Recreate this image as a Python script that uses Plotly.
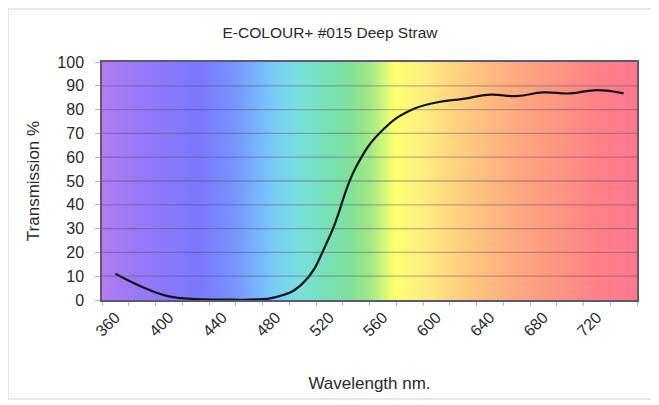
import plotly.graph_objects as go

# ---- data ----
wavelength = [360, 380, 400, 420, 440, 460, 480, 500, 520, 540,
              560, 580, 600, 620, 640, 660, 680, 700, 720, 740]
transmission = [11, 5.5, 1.5, 0.4, 0.2, 0.2, 1.2, 7, 26.5, 56,
                71.5, 79.5, 83, 84.5, 86.3, 85.7, 87.2, 86.8, 88.2, 86.8]
x_tick_vals = [360, 400, 440, 480, 520, 560, 600, 640, 680, 720]
y_tick_vals = [0, 10, 20, 30, 40, 50, 60, 70, 80, 90, 100]
x_range = [350, 750]

# spectrum background stops (wavelength, colour)
spectrum_nm = [350, 373, 423, 446, 464, 479, 498, 520, 535, 550, 562, 569,
               588, 606, 633, 662, 692, 722, 750]
spectrum_col = ["#b47cf0", "#9a79f6", "#7a78ff", "#7890ff", "#78b0ff", "#78cdf5",
                "#78e0dc", "#78e0b4", "#80e098", "#a0e888", "#d8f878", "#ffff70",
                "#fff080", "#ffdc80", "#ffc080", "#ffa880", "#ff9484", "#ff8088",
                "#ff7890"]

span = x_range[1] - x_range[0]
colorscale = [[(w - x_range[0]) / span, c] for w, c in zip(spectrum_nm, spectrum_col)]

# plot area in figure pixels (page body adds an 8px offset)
W, H = 659, 405
L, R, T, B = 94, 629, 54, 292

fig = go.Figure()

# gradient background as a filled rectangle
fig.add_trace(go.Scatter(
    x=[x_range[0], x_range[1], x_range[1], x_range[0], x_range[0]],
    y=[y_tick_vals[0], y_tick_vals[0], y_tick_vals[-1], y_tick_vals[-1], y_tick_vals[0]],
    mode="lines", line=dict(width=0), fill="toself",
    fillgradient=dict(type="horizontal", colorscale=colorscale,
                      start=x_range[0], stop=x_range[1]),
    hoverinfo="skip", showlegend=False,
))

# curve
fig.add_trace(go.Scatter(
    x=wavelength, y=transmission, mode="lines",
    line=dict(color="#141420", width=2.2, shape="spline", smoothing=1.3),
    showlegend=False,
))

pw, ph = R - L, B - T
shapes = []
for v in y_tick_vals[1:-1]:
    shapes.append(dict(type="line", xref="x domain", yref="y", x0=0, x1=1, y0=v, y1=v,
                       line=dict(color="rgba(70,70,90,0.38)", width=1.3), layer="above"))
# outer light frame
shapes.append(dict(type="rect", xref="paper", yref="paper",
                   x0=(0 - L) / pw, x1=(647 - L) / pw,
                   y0=(B - 391) / ph, y1=(B - 1) / ph,
                   line=dict(color="#d4d4d4", width=1.2), fillcolor="rgba(0,0,0,0)",
                   layer="below"))

font_family = "Liberation Sans, Arial, sans-serif"

fig.update_layout(
    width=W, height=H,
    margin=dict(l=L, r=W - R, t=T, b=H - B),
    paper_bgcolor="white", plot_bgcolor="white",
    font=dict(family=font_family, color="#2a2a2a", size=16),
    title=dict(text="E-COLOUR+ #015 Deep Straw", x=322 / W, xref="container",
               xanchor="center", y=1 - 25 / H, yanchor="middle",
               font=dict(size=15.5, color="#2a2a2a")),
    shapes=shapes,
    showlegend=False,
)

fig.update_xaxes(
    range=x_range, tickmode="array", tickvals=x_tick_vals,
    ticktext=[str(v) for v in x_tick_vals], tickangle=-45,
    ticks="", ticklen=0, showgrid=False, zeroline=False,
    showline=True, mirror=True, linecolor="#5a5a74", linewidth=1.5,
    tickfont=dict(size=16),
    minor=dict(tickmode="linear", tick0=370, dtick=20, ticks="outside",
               ticklen=4, tickcolor="#b8b8b8", showgrid=False),
    title=dict(text="Wavelength nm.", font=dict(size=17), standoff=38),
    layer="above traces",
)
fig.update_yaxes(
    range=[0, 100], tickmode="array", tickvals=y_tick_vals,
    ticks="outside", ticklen=5, tickcolor="#b8b8b8",
    showgrid=False, zeroline=False,
    showline=True, mirror=True, linecolor="#5a5a74", linewidth=1.5,
    tickfont=dict(size=16), ticklabelstandoff=8,
    title=dict(text="Transmission %", font=dict(size=17), standoff=13),
    layer="above traces",
)

fig.write_html("out.html")
